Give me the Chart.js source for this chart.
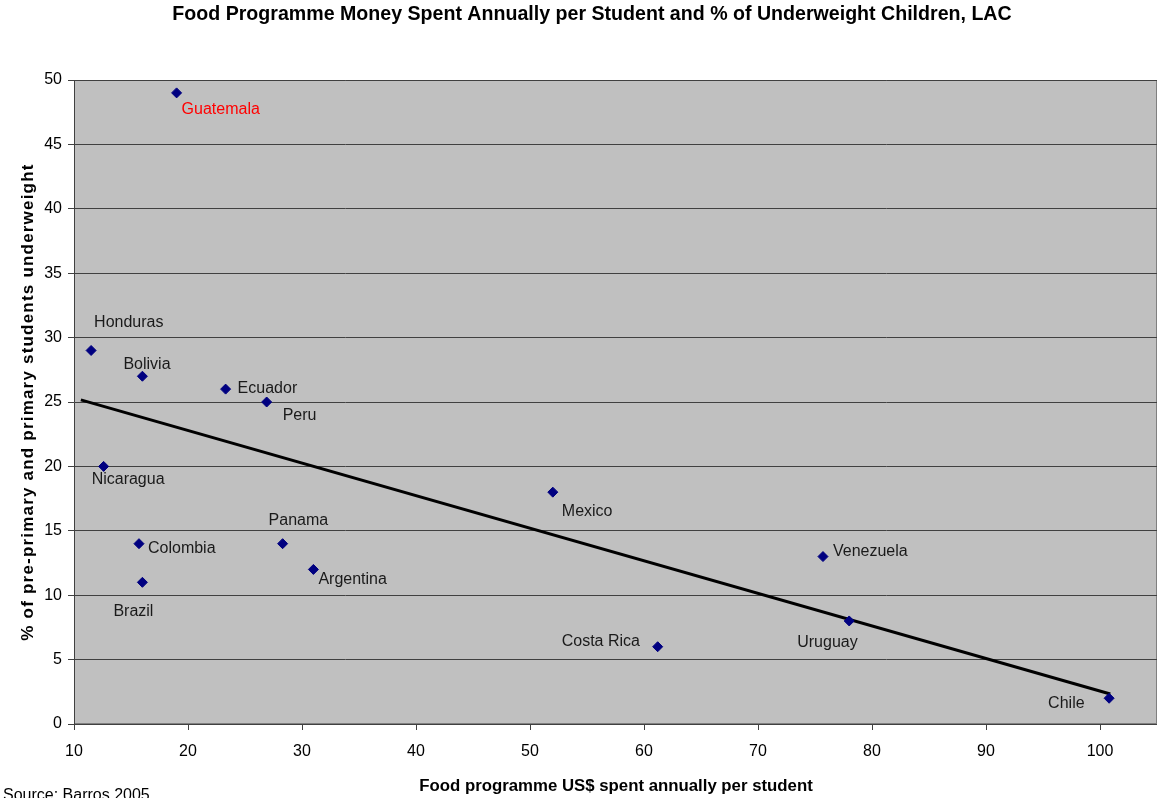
<!DOCTYPE html>
<html>
<head>
<meta charset="utf-8">
<title>Food Programme Money Spent Annually per Student and % of Underweight Children, LAC</title>
<script src="https://cdn.jsdelivr.net/npm/chart.js@4.4.1/dist/chart.umd.min.js"></script>
<style>
  html, body { margin: 0; padding: 0; background: #ffffff; overflow: hidden; }
  #wrap { width: 1157px; height: 798px; position: relative; overflow: hidden; }
  #chart { display: block; }
</style>
</head>
<body>
<div id="wrap"><canvas id="chart" width="1163" height="798"></canvas></div>
<script>
// Countries and their values
const countries = ['Guatemala', 'Honduras', 'Bolivia', 'Ecuador', 'Peru', 'Nicaragua', 'Colombia', 'Brazil',
                   'Panama', 'Argentina', 'Mexico', 'Costa Rica', 'Venezuela', 'Uruguay', 'Chile'];
const spendPerStudent = [19.0, 11.5, 16.0, 23.3, 26.9, 12.6, 15.7, 16.0, 28.3, 31.0, 52.0, 61.2, 75.7, 78.0, 100.8];
const pctUnderweight = [49, 29, 27, 26, 25, 20, 14, 11, 14, 12, 18, 6, 13, 8, 2];

// Axis ticks
const xTickValues = [10, 20, 30, 40, 50, 60, 70, 80, 90, 100];
const yTickValues = [0, 5, 10, 15, 20, 25, 30, 35, 40, 45, 50];

// Extent of the fitted trend line along the x axis
const trendRange = [10.6, 100.9];

// Label offsets (px) from each marker, in country order
const labelDx = [5, 3, -19, 12, 16, -12, 9, -29, -14, 5, 9, -96, 10, -52, -61];
const labelDy = [15, -30, -14, -3, 12, 11, 3, 27, -25, 8, 17, -7, -7, 20, 3];
const labelColors = ['#ff0000', '#1a1a1a', '#1a1a1a', '#1a1a1a', '#1a1a1a', '#1a1a1a', '#1a1a1a', '#1a1a1a',
                     '#1a1a1a', '#1a1a1a', '#1a1a1a', '#1a1a1a', '#1a1a1a', '#1a1a1a', '#1a1a1a'];

// Least-squares fit of underweight % on spending
function linearFit(xs, ys) {
  const n = xs.length;
  const mx = xs.reduce((a, b) => a + b, 0) / n;
  const my = ys.reduce((a, b) => a + b, 0) / n;
  let sxy = 0, sxx = 0;
  for (let i = 0; i < n; i++) {
    sxy += (xs[i] - mx) * (ys[i] - my);
    sxx += (xs[i] - mx) * (xs[i] - mx);
  }
  const slope = sxy / sxx;
  return { slope, intercept: my - slope * mx };
}
const fit = linearFit(spendPerStudent, pctUnderweight);
const trendPoints = trendRange.map(x => ({ x, y: fit.intercept + fit.slope * x }));

const scatterPoints = spendPerStudent.map((x, i) => ({ x, y: pctUnderweight[i] }));

const FONT = '"Liberation Sans", Arial, Helvetica, sans-serif';

// Grey plot area with a thin frame
const plotBackground = {
  id: 'plotBackground',
  beforeDraw(chart) {
    const { ctx, chartArea: a } = chart;
    ctx.save();
    ctx.fillStyle = '#c0c0c0';
    ctx.fillRect(a.left, a.top, a.right - a.left, a.bottom - a.top);
    ctx.strokeStyle = '#808080';
    ctx.lineWidth = 1;
    ctx.strokeRect(a.left + 0.5, a.top + 0.5, a.right - a.left - 1, a.bottom - a.top - 1);
    ctx.restore();
  }
};

// Country names next to the markers
const pointLabels = {
  id: 'pointLabels',
  afterDatasetsDraw(chart) {
    const meta = chart.getDatasetMeta(1);
    const { ctx } = chart;
    ctx.save();
    ctx.font = '16px ' + FONT;
    ctx.textAlign = 'left';
    ctx.textBaseline = 'middle';
    meta.data.forEach((pt, i) => {
      ctx.fillStyle = labelColors[i];
      ctx.fillText(countries[i], pt.x + labelDx[i], pt.y + labelDy[i] + 2);
    });
    ctx.restore();
  }
};

// Title, axis titles and source note
const chartTexts = {
  id: 'chartTexts',
  afterDraw(chart) {
    const { ctx } = chart;
    ctx.save();
    ctx.fillStyle = '#000000';
    ctx.textBaseline = 'middle';

    ctx.font = 'bold 19.6px ' + FONT;
    ctx.textAlign = 'center';
    ctx.fillText('Food Programme Money Spent Annually per Student and % of Underweight Children, LAC', 592, 15);

    ctx.font = 'bold 16.8px ' + FONT;
    ctx.fillText('Food programme US$ spent annually per student', 616, 786);

    ctx.save();
    ctx.translate(28, 402);
    ctx.rotate(-Math.PI / 2);
    ctx.font = 'bold 17px ' + FONT;
    ctx.letterSpacing = '1.2px';
    ctx.fillText('% of pre-primary and primary students underweight', 0, 0);
    ctx.restore();

    ctx.font = '16px ' + FONT;
    ctx.textAlign = 'left';
    ctx.fillText('Source: Barros 2005', 3, 796);
    ctx.restore();
  }
};

new Chart(document.getElementById('chart'), {
  type: 'scatter',
  data: {
    datasets: [
      {
        type: 'line',
        label: 'Trend',
        data: trendPoints,
        borderColor: '#000000',
        borderWidth: 3,
        pointRadius: 0,
        fill: false,
        order: 1
      },
      {
        label: '% underweight',
        data: scatterPoints,
        pointStyle: 'rectRot',
        pointRadius: 5,
        backgroundColor: '#000080',
        borderColor: '#000080',
        borderWidth: 1,
        order: 0
      }
    ]
  },
  options: {
    responsive: false,
    animation: false,
    layout: { padding: { top: 80, right: 1, left: 0, bottom: 0 } },
    plugins: {
      legend: { display: false },
      tooltip: { enabled: false },
      title: { display: false }
    },
    scales: {
      x: {
        type: 'linear',
        min: 10,
        max: 105,
        afterBuildTicks(scale) { scale.ticks = xTickValues.map(v => ({ value: v })); },
        afterFit(scale) { scale.height = 74; },
        grid: { drawOnChartArea: false, drawTicks: true, tickLength: 6, color: '#404040', lineWidth: 1 },
        border: { display: true, color: '#404040', width: 1 },
        ticks: { padding: 12, color: '#000000', font: { family: FONT, size: 16 }, maxRotation: 0 }
      },
      y: {
        type: 'linear',
        min: 0,
        max: 50,
        afterBuildTicks(scale) { scale.ticks = yTickValues.map(v => ({ value: v })); },
        afterFit(scale) { scale.width = 74; },
        grid: { drawOnChartArea: true, drawTicks: true, tickLength: 6, color: '#404040', lineWidth: 1 },
        border: { display: true, color: '#404040', width: 1 },
        ticks: { padding: 6, color: '#000000', font: { family: FONT, size: 16 } }
      }
    }
  },
  plugins: [plotBackground, pointLabels, chartTexts]
});
</script>
</body>
</html>
